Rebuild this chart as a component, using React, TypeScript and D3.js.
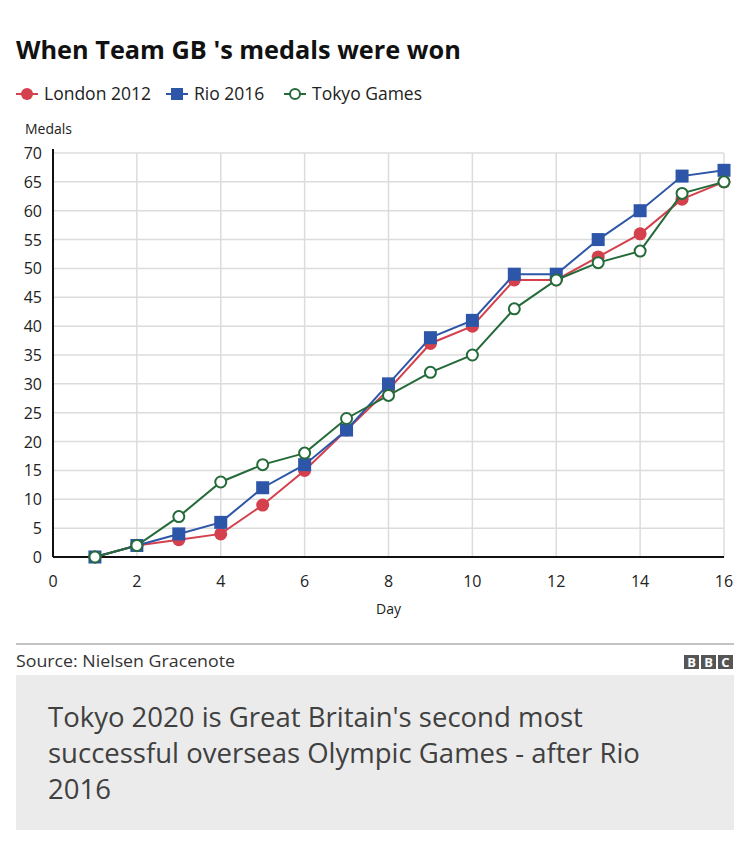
import { useEffect, useRef } from 'react';
import * as d3 from 'd3';

const days = [1, 2, 3, 4, 5, 6, 7, 8, 9, 10, 11, 12, 13, 14, 15, 16];
const london2012 = [0, 2, 3, 4, 9, 15, 22, 29, 37, 40, 48, 48, 52, 56, 62, 65];
const rio2016 = [0, 2, 4, 6, 12, 16, 22, 30, 38, 41, 49, 49, 55, 60, 66, 67];
const tokyoGames = [0, 2, 7, 13, 16, 18, 24, 28, 32, 35, 43, 48, 51, 53, 63, 65];
const xTicks = [0, 2, 4, 6, 8, 10, 12, 14, 16];
const yTicks = [0, 5, 10, 15, 20, 25, 30, 35, 40, 45, 50, 55, 60, 65, 70];

const FONT = '"Open Sans", "Noto Sans", sans-serif';
const RED = '#d4414d';
const BLUE = '#2d56a8';
const GREEN = '#256b3a';

export default function App() {
  const svgRef = useRef<SVGSVGElement>(null);

  useEffect(() => {
    if (!svgRef.current) return;
    const svg = d3.select(svgRef.current);
    svg.selectAll('*').remove();

    const x = d3.scaleLinear().domain([0, 16]).range([53, 724]);
    const y = d3.scaleLinear().domain([0, 70]).range([557, 153]);

    // Title
    svg.append('text')
      .attr('x', 16).attr('y', 59)
      .attr('font-family', FONT).attr('font-size', 25.3).attr('font-weight', 700)
      .attr('fill', '#111')
      .text("When Team GB 's medals were won");

    // Legend
    const legend = [
      { name: 'London 2012', color: RED, shape: 'circle', x: 16 },
      { name: 'Rio 2016', color: BLUE, shape: 'square', x: 166 },
      { name: 'Tokyo Games', color: GREEN, shape: 'open', x: 284 },
    ];
    legend.forEach(l => {
      const g = svg.append('g').attr('transform', `translate(${l.x}, 94)`);
      g.append('line').attr('x1', 0).attr('x2', 22).attr('stroke', l.color).attr('stroke-width', 2);
      if (l.shape === 'circle') {
        g.append('circle').attr('cx', 11).attr('r', 6).attr('fill', l.color);
      } else if (l.shape === 'square') {
        g.append('rect').attr('x', 5).attr('y', -6).attr('width', 12).attr('height', 12).attr('fill', l.color);
      } else {
        g.append('circle').attr('cx', 11).attr('r', 5).attr('fill', '#fff')
          .attr('stroke', l.color).attr('stroke-width', 2);
      }
      g.append('text').attr('x', 28).attr('y', 6)
        .attr('font-family', FONT).attr('font-size', 17.5).attr('fill', '#222')
        .text(l.name);
    });

    // Y axis title
    svg.append('text')
      .attr('x', 25).attr('y', 134)
      .attr('font-family', FONT).attr('font-size', 14).attr('fill', '#222')
      .text('Medals');

    // Grid
    svg.append('g').selectAll('line').data(yTicks.filter(t => t > 0)).join('line')
      .attr('x1', x(0)).attr('x2', x(16))
      .attr('y1', d => y(d)).attr('y2', d => y(d))
      .attr('stroke', '#dcdcdc').attr('stroke-width', 1.5);
    svg.append('g').selectAll('line').data(xTicks.filter(t => t > 0)).join('line')
      .attr('x1', d => x(d)).attr('x2', d => x(d))
      .attr('y1', y(70)).attr('y2', y(0))
      .attr('stroke', '#dcdcdc').attr('stroke-width', 1.5);

    // Axes
    svg.append('line')
      .attr('x1', x(0)).attr('x2', x(0)).attr('y1', y(70) - 4).attr('y2', y(0))
      .attr('stroke', '#111').attr('stroke-width', 2);
    svg.append('line')
      .attr('x1', x(0)).attr('x2', x(16)).attr('y1', y(0)).attr('y2', y(0))
      .attr('stroke', '#111').attr('stroke-width', 2);

    // Tick labels
    svg.append('g').selectAll('text').data(yTicks).join('text')
      .attr('x', 42).attr('y', d => y(d) + 6)
      .attr('text-anchor', 'end')
      .attr('font-family', FONT).attr('font-size', 16).attr('fill', '#222')
      .text(d => d);
    svg.append('g').selectAll('text').data(xTicks).join('text')
      .attr('x', d => x(d)).attr('y', 587)
      .attr('text-anchor', 'middle')
      .attr('font-family', FONT).attr('font-size', 16).attr('fill', '#222')
      .text(d => d);

    svg.append('text')
      .attr('x', x(8)).attr('y', 614)
      .attr('text-anchor', 'middle')
      .attr('font-family', FONT).attr('font-size', 14).attr('fill', '#222')
      .text('Day');

    // Series
    const line = d3.line<number>().x((_, i) => x(days[i])).y(d => y(d));
    const series = [
      { values: london2012, color: RED, shape: 'circle' },
      { values: rio2016, color: BLUE, shape: 'square' },
      { values: tokyoGames, color: GREEN, shape: 'open' },
    ];
    series.forEach(s => {
      svg.append('path').datum(s.values)
        .attr('d', line)
        .attr('fill', 'none').attr('stroke', s.color).attr('stroke-width', 2);
      const g = svg.append('g');
      if (s.shape === 'circle') {
        g.selectAll('circle').data(s.values).join('circle')
          .attr('cx', (_, i) => x(days[i])).attr('cy', d => y(d))
          .attr('r', 6.5).attr('fill', s.color);
      } else if (s.shape === 'square') {
        g.selectAll('rect').data(s.values).join('rect')
          .attr('x', (_, i) => x(days[i]) - 6.5).attr('y', d => y(d) - 6.5)
          .attr('width', 13).attr('height', 13).attr('fill', s.color);
      } else {
        g.selectAll('circle').data(s.values).join('circle')
          .attr('cx', (_, i) => x(days[i])).attr('cy', d => y(d))
          .attr('r', 5.5).attr('fill', '#fff')
          .attr('stroke', s.color).attr('stroke-width', 2);
      }
    });

    // Footer
    svg.append('line')
      .attr('x1', 16).attr('x2', 734).attr('y1', 644).attr('y2', 644)
      .attr('stroke', '#b0b0b0').attr('stroke-width', 1.5);
    svg.append('text')
      .attr('x', 16).attr('y', 667)
      .attr('font-family', FONT).attr('font-size', 16).attr('fill', '#333')
      .attr('textLength', 219).attr('lengthAdjust', 'spacingAndGlyphs')
      .text('Source: Nielsen Gracenote');
    ['B', 'B', 'C'].forEach((ch, i) => {
      const bx = 684 + i * 17;
      svg.append('rect').attr('x', bx).attr('y', 655).attr('width', 15).attr('height', 14).attr('fill', '#555');
      svg.append('text').attr('x', bx + 7.5).attr('y', 667)
        .attr('text-anchor', 'middle')
        .attr('font-family', FONT).attr('font-size', 13).attr('font-weight', 700).attr('fill', '#fff')
        .text(ch);
    });

    svg.append('rect')
      .attr('x', 16).attr('y', 675).attr('width', 718).attr('height', 155)
      .attr('fill', '#ebebeb');
    const lines = [
      "Tokyo 2020 is Great Britain's second most",
      'successful overseas Olympic Games - after Rio',
      '2016',
    ];
    lines.forEach((t, i) => {
      svg.append('text')
        .attr('x', 48).attr('y', 727 + i * 36)
        .attr('font-family', FONT).attr('font-size', 27.5).attr('fill', '#404040')
        .text(t);
    });
  }, []);

  return (
    <div style={{ margin: -8 }}>
      <svg ref={svgRef} width={750} height={855} style={{ display: 'block', background: '#fff' }}></svg>
    </div>
  );
}
